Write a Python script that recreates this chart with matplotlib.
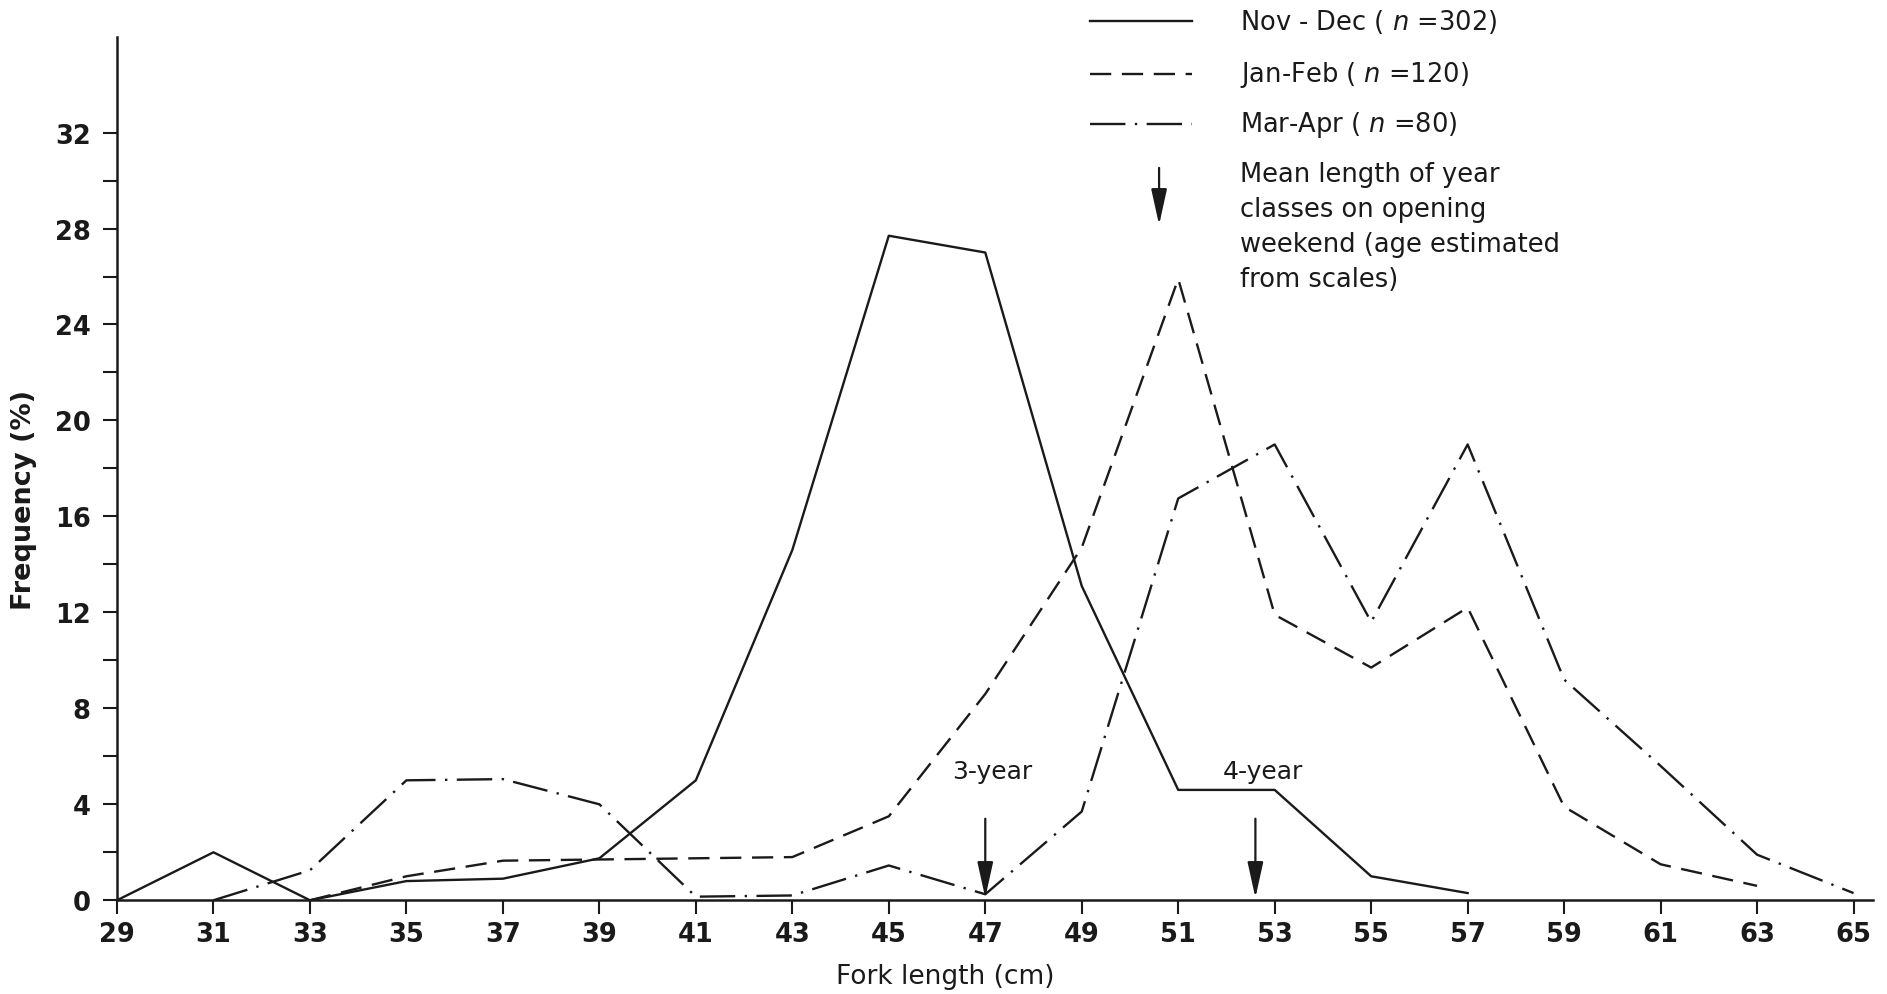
import matplotlib
matplotlib.use("Agg")
import matplotlib.pyplot as plt
from matplotlib.lines import Line2D

# fork length classes (cm) and percentage frequency per sampling period
lengths = [29, 31, 33, 35, 37, 39, 41, 43, 45, 47, 49, 51, 53, 55, 57, 59, 61, 63, 65]

nov_dec_len = [29, 31, 33, 35, 37, 39, 41, 43, 45, 47, 49, 51, 53, 55, 57]
nov_dec = [0, 2.0, 0, 0.8, 0.9, 1.75, 5.0, 14.6, 27.7, 27.0, 13.1, 4.6, 4.6, 1.0, 0.3]

jan_feb_len = [33, 35, 37, 39, 41, 43, 45, 47, 49, 51, 53, 55, 57, 59, 61, 63]
jan_feb = [0, 1.0, 1.65, 1.7, 1.75, 1.8, 3.5, 8.6, 14.7, 25.9, 11.9, 9.7, 12.2, 3.9, 1.5, 0.6]

mar_apr_len = [31, 33, 35, 37, 39, 41, 43, 45, 47, 49, 51, 53, 55, 57, 59, 61, 63, 65]
mar_apr = [0, 1.25, 5.0, 5.05, 4.0, 0.15, 0.2, 1.45, 0.25, 3.7, 16.75, 19.0, 11.6, 19.0, 9.2, 5.6, 1.9, 0.3]

series_names = ["Nov - Dec ( $\\mathit{n}$ =302)", "Jan-Feb ( $\\mathit{n}$ =120)", "Mar-Apr ( $\\mathit{n}$ =80)"]

# mean length of the year classes on opening weekend
year_class_names = ["3-year", "4-year"]
year_class_means = [47.0, 52.6]

ink = "#1a1a1a"
lw = 1.7
styles = ["-", (0, (9, 4.5)), (0, (15, 4, 1, 4))]
arrow = dict(arrowstyle="-|>,head_length=1.0,head_width=0.22", mutation_scale=22,
             color=ink, lw=1.6, shrinkA=0, shrinkB=0)

plt.rcParams["font.family"] = ["DejaVu Sans"]
plt.rcParams["mathtext.fontset"] = "dejavusans"

fig = plt.figure(figsize=(18.87, 9.95), dpi=100)
ax = fig.add_axes([0.062, 0.0942, 0.9305, 0.868])

ax.plot(nov_dec_len, nov_dec, color=ink, lw=lw, ls=styles[0])
ax.plot(jan_feb_len, jan_feb, color=ink, lw=lw, ls=styles[1])
ax.plot(mar_apr_len, mar_apr, color=ink, lw=lw, ls=styles[2])

# arrows marking the year class means
for name, x in zip(year_class_names, year_class_means):
    ax.annotate("", xy=(x, 0.1), xytext=(x, 3.4), arrowprops=arrow)
    ax.text(x + 0.15, 5.4, name, ha="center", va="center", fontsize=18, color=ink)

ax.set_xlim(29, 65.4)
ax.set_ylim(0, 36)
ax.set_xticks(lengths)
ax.set_yticks(range(0, 33, 4))
ax.set_yticks(range(2, 31, 4), minor=True)
ax.tick_params(axis="both", which="both", direction="out", length=10, width=1.5, color=ink)
ax.tick_params(axis="y", pad=9)
ax.tick_params(axis="x", pad=5)
for lab in ax.get_xticklabels() + ax.get_yticklabels():
    lab.set_fontsize(18.5)
    lab.set_fontweight("bold")
    lab.set_color(ink)

for s in ["top", "right"]:
    ax.spines[s].set_visible(False)
for s in ["left", "bottom"]:
    ax.spines[s].set_linewidth(1.8)
    ax.spines[s].set_color(ink)

ax.text(-0.053, 0.465, "Frequency (%)", rotation=90, ha="center", va="center",
        fontsize=19.5, fontweight="bold", color=ink, transform=ax.transAxes)
ax.text(0.4716, -0.088, "Fork length (cm)", ha="center", va="center",
        fontsize=19, color=ink, transform=ax.transAxes)

# hand-built key in the upper right
key_y = [1.018, 0.957, 0.899]
for name, ls, y in zip(series_names, styles, key_y):
    ax.add_line(Line2D([0.554, 0.612], [y, y], color=ink, lw=lw, ls=ls,
                       transform=ax.transAxes, clip_on=False))
    ax.text(0.6395, y, name, ha="left", va="center", fontsize=18.5, color=ink,
            transform=ax.transAxes, clip_on=False)

ax.annotate("", xy=(0.5935, 0.782), xytext=(0.5935, 0.848), xycoords="axes fraction",
            arrowprops=arrow)
ax.text(0.6395, 0.856, "Mean length of year\nclasses on opening\nweekend (age estimated\nfrom scales)",
        ha="left", va="top", fontsize=18.5, color=ink, linespacing=1.45,
        transform=ax.transAxes)

fig.savefig("out.png", dpi=100, facecolor="white")
